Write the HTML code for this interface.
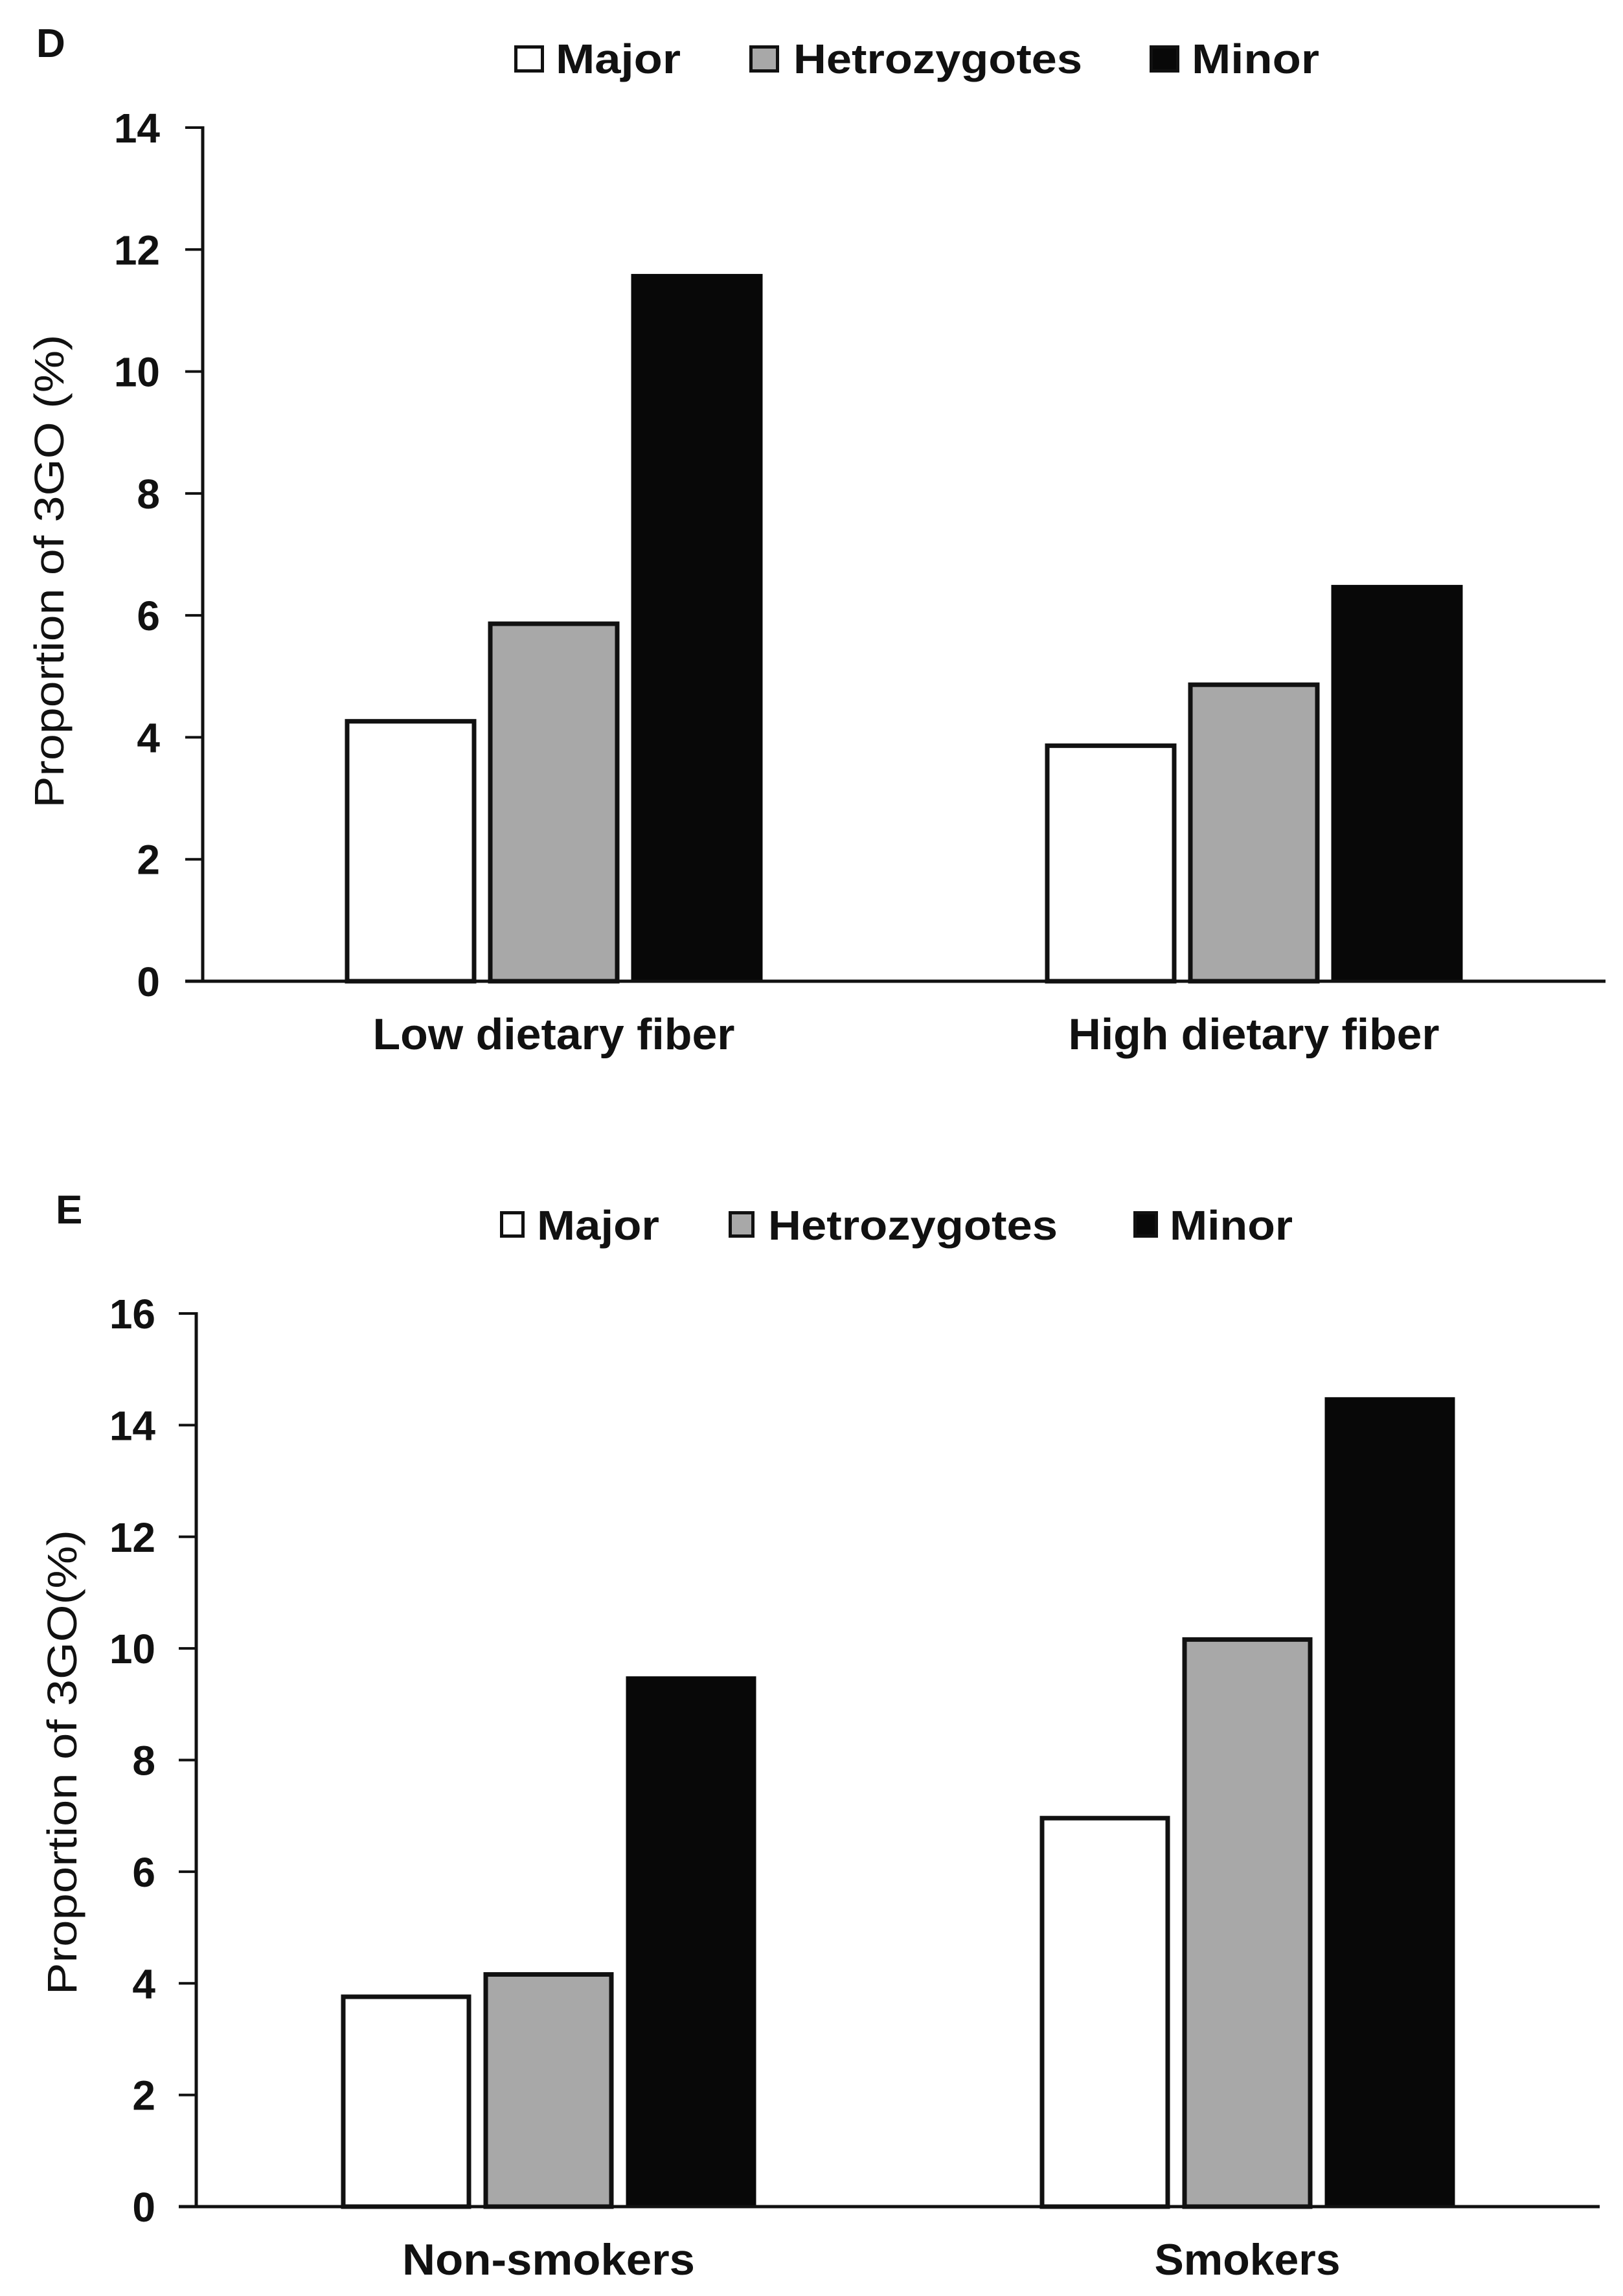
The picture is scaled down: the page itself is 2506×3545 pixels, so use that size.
<!DOCTYPE html>
<html><head><meta charset="utf-8"><style>
html,body{margin:0;padding:0;background:#fff}
svg{display:block}
text{font-family:"Liberation Sans","DejaVu Sans",sans-serif;fill:#111}
</style></head><body>
<svg id="fig" width="2506" height="3545" viewBox="0 0 2506 3545" xmlns="http://www.w3.org/2000/svg"></svg>
<script>
const seriesNames = ["Major", "Hetrozygotes", "Minor"];
const seriesFills = ["#ffffff", "#a8a8a8", "#080808"];
const catsD = ["Low dietary fiber", "High dietary fiber"];
const majorD = [4.3, 3.9];
const hetD = [5.9, 4.9];
const minorD = [11.6, 6.5];
const ticksD = [0, 2, 4, 6, 8, 10, 12, 14];
const catsE = ["Non-smokers", "Smokers"];
const majorE = [3.8, 7.0];
const hetE = [4.2, 10.2];
const minorE = [9.5, 14.5];
const ticksE = [0, 2, 4, 6, 8, 10, 12, 14, 16];

const NS = "http://www.w3.org/2000/svg";
const svg = document.getElementById('fig');
function mk(tag, attrs, parent, txt){
  const e = document.createElementNS(NS, tag);
  for (const k in attrs) e.setAttribute(k, attrs[k]);
  if (txt !== undefined) e.textContent = txt;
  (parent || svg).appendChild(e);
  return e;
}

function chart(cfg){
  const g = mk('g', {});
  
  
  const yMax = cfg.ticks[cfg.ticks.length-1];
  const y = v => cfg.y0 - (cfg.y0 - cfg.yTop) * v / yMax;
  const xc = i => cfg.c0 + i * cfg.spacing;

  const pl = mk('text', {x: cfg.letterX, y: cfg.letterY, 'font-size': 62, 'font-weight': 'bold'}, g, cfg.letter);
  
  

  cfg.legend.forEach((L, i) => {
    const lg = mk('g', {}, g);
    
    
    mk('rect', {x: L.sx + 2.5, y: cfg.legSqY + 2.5, width: L.sw - 5, height: cfg.legSqH - 5, fill: seriesFills[i], stroke: '#111', 'stroke-width': 5}, lg);
    mk('text', {x: L.tx, y: cfg.legBase, 'font-size': 64, 'font-weight': 'bold', textLength: L.tw, lengthAdjust: 'spacingAndGlyphs'}, lg, seriesNames[i]);
  });

  const ya = mk('g', {}, g);
  
  
  mk('line', {x1: cfg.axX, y1: y(yMax) - 2, x2: cfg.axX, y2: y(0) + 2, stroke: '#111', 'stroke-width': 5}, ya);
  cfg.ticks.forEach(t => {
    mk('line', {x1: cfg.axX - 27, y1: y(t), x2: cfg.axX, y2: y(t), stroke: '#111', 'stroke-width': 4}, ya);
    const tl = mk('text', {x: cfg.tickR, y: y(t) + 23, 'font-size': 64, 'font-weight': 'bold', 'text-anchor': 'end'}, ya, String(t));
    
    
  });
  const yt = mk('text', {x: 0, y: 0, 'font-size': 64, 'text-anchor': 'middle', textLength: cfg.titleLen, lengthAdjust: 'spacingAndGlyphs', transform: `translate(${cfg.titleX},${cfg.titleY}) rotate(-90)`}, g, cfg.title);
  
  

  const series = [cfg.major, cfg.het, cfg.minor];
  cfg.cats.forEach((c, i) => {
    series.forEach((vals, s) => {
      const cx = xc(i) + (s - 1) * cfg.pitch;
      const top = y(vals[i]);
      const sw = s === 0 || s === 1 ? 7 : 0;
      const b = mk('rect', {x: cx - cfg.bw/2 + sw/2, y: top + sw/2, width: cfg.bw - sw, height: y(0) - top - sw/2, fill: seriesFills[s], stroke: sw ? '#111' : 'none', 'stroke-width': sw}, g);
      
      
    });
    const cl = mk('text', {x: xc(i), y: cfg.catBase, 'font-size': 68, 'font-weight': 'bold', 'text-anchor': 'middle', textLength: cfg.catLens[i], lengthAdjust: 'spacingAndGlyphs'}, g, c);
    
    
  });

  const xa = mk('line', {x1: cfg.axX - 27, y1: y(0), x2: cfg.axEnd, y2: y(0), stroke: '#111', 'stroke-width': 5}, g);
  
  
}

chart({
  name: 'chart-d', letter: 'D', letterX: 56, letterY: 88,
  legSqY: 70, legSqH: 42, legBase: 113,
  legend: [{sx: 794, sw: 46, tx: 858, tw: 193}, {sx: 1157, sw: 46, tx: 1225, tw: 446}, {sx: 1775, sw: 46, tx: 1840, tw: 197}],
  axX: 313, axEnd: 2479, y0: 1515, yTop: 197, ticks: ticksD, tickR: 247,
  title: 'Proportion of 3GO (%)', titleX: 98, titleY: 882, titleLen: 731,
  cats: catsD, major: majorD, het: hetD, minor: minorD,
  c0: 855, spacing: 1081, pitch: 221, bw: 203,
  catBase: 1620, catLens: [559, 573]
});

chart({
  name: 'chart-e', letter: 'E', letterX: 86, letterY: 1889,
  legSqY: 1870, legSqH: 41, legBase: 1914,
  legend: [{sx: 772, sw: 38, tx: 829, tw: 189}, {sx: 1125, sw: 40, tx: 1186, tw: 447}, {sx: 1750, sw: 38, tx: 1806, tw: 190}],
  axX: 303, axEnd: 2470, y0: 3407, yTop: 2028, ticks: ticksE, tickR: 240,
  title: 'Proportion of 3GO(%)', titleX: 118, titleY: 2721, titleLen: 718,
  cats: catsE, major: majorE, het: hetE, minor: minorE,
  c0: 847, spacing: 1079, pitch: 220, bw: 201,
  catBase: 3512, catLens: [452, 287]
});
</script>
</body></html>
